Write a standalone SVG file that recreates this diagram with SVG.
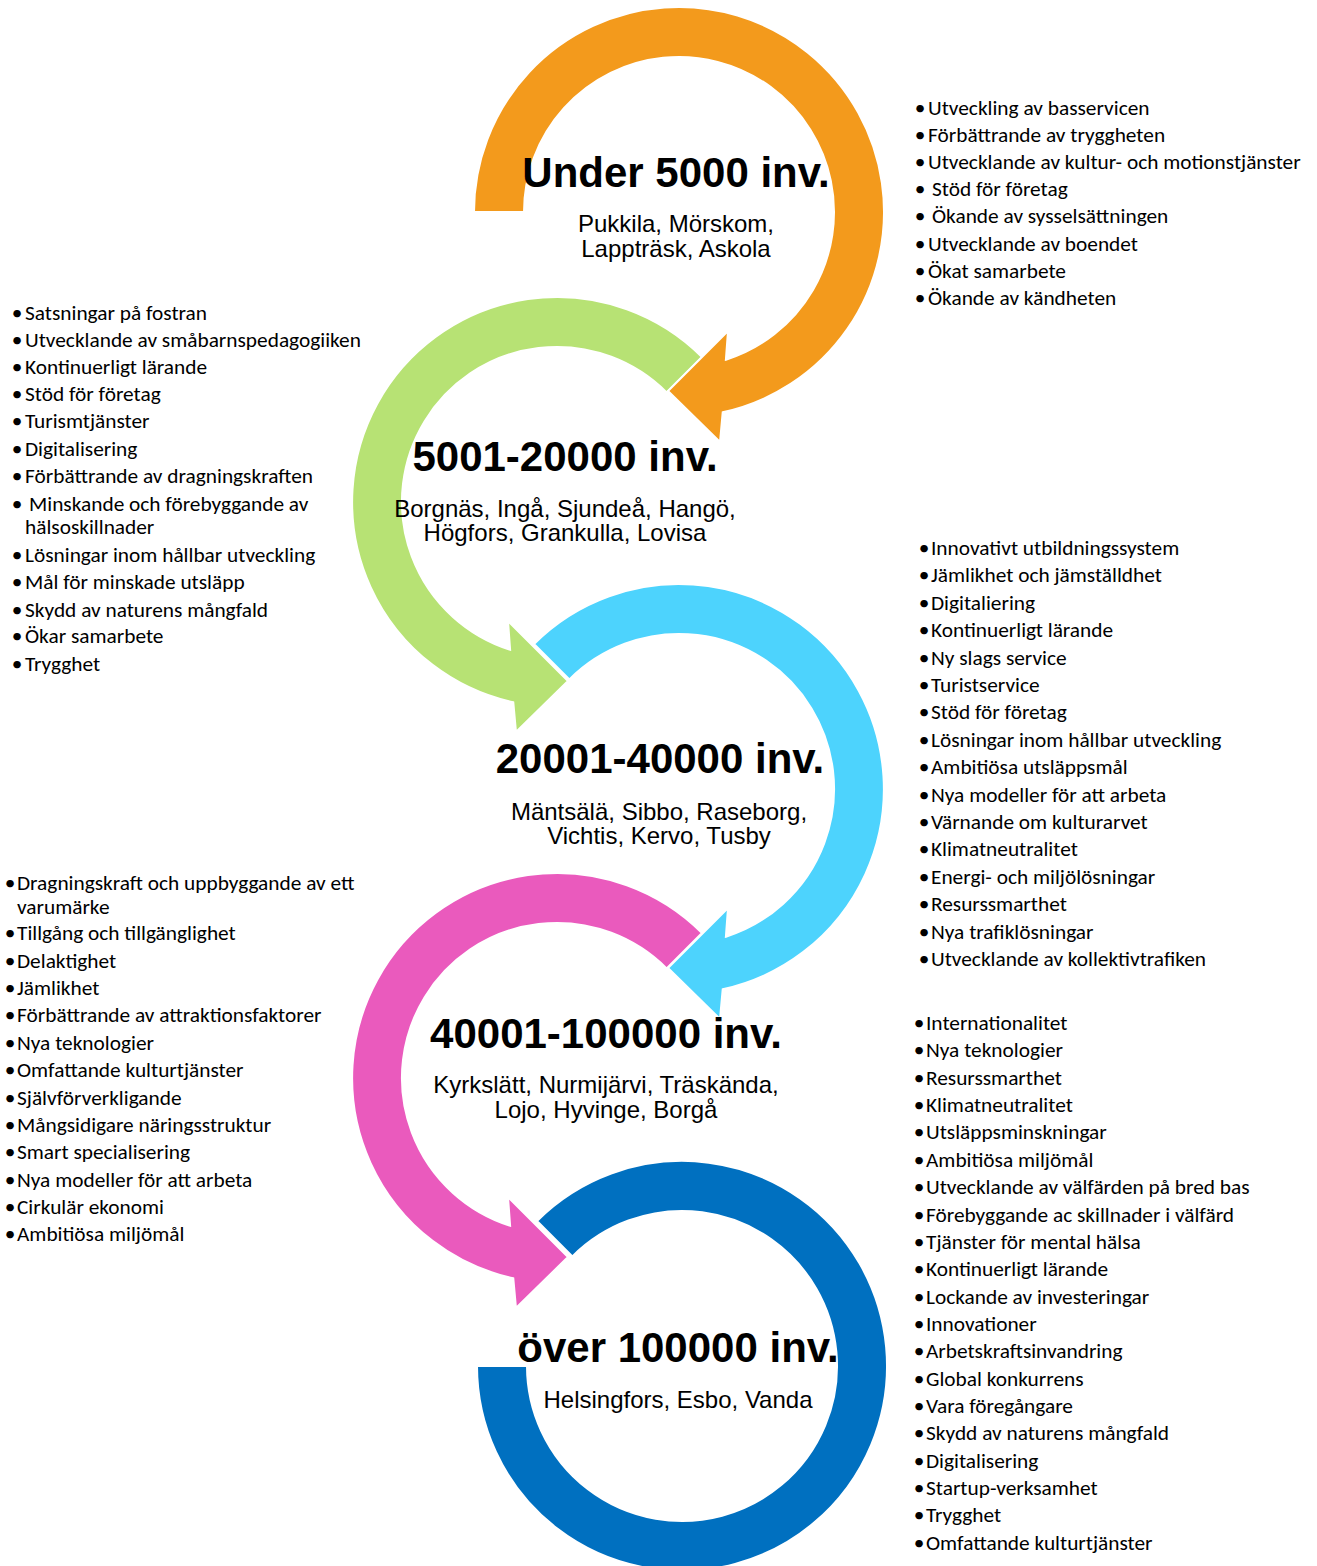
<svg xmlns="http://www.w3.org/2000/svg" width="1317" height="1566" viewBox="0 0 1317 1566">
<style>
.ring{stroke:#FFFFFF;stroke-width:2;stroke-linejoin:miter}
.title{font-family:"Liberation Sans",Arial,sans-serif;font-weight:bold;font-size:42px;text-anchor:middle;fill:#000}
.sub{font-family:"Liberation Sans",Arial,sans-serif;font-size:24px;text-anchor:middle;fill:#000}
.li{font-family:Carlito,Calibri,Lato,sans-serif;font-size:21.33px;fill:#000}
.b{text-anchor:middle}
</style>
<rect width="1317" height="1566" fill="#FFFFFF"/>

<g id="stage-5">
<path class="ring" fill="#0070C0" transform="translate(682,1366)" d="M -145,-145 A 205 205 0 1 1 -205,0 L -155,0 A 155 155 0 1 0 -109.6,-109.6 Z"/>
</g>
<g id="stage-4">
<path class="ring" fill="#EA5ABD" transform="translate(557,1078)" d="M 145,-145 A 205 205 0 1 0 -43.7,200.3 L -41,230 L 11,179 L -49,119 L -46.9,147.7 A 155 155 0 1 1 109.6,-109.6 Z"/>
</g>
<g id="stage-3">
<path class="ring" fill="#4DD3FD" transform="translate(679,789)" d="M -145,-145 A 205 205 0 1 1 43.7,200.3 L 41,230 L -11,179 L 49,119 L 46.9,147.7 A 155 155 0 1 0 -109.6,-109.6 Z"/>
</g>
<g id="stage-2">
<path class="ring" fill="#B7E274" transform="translate(557,502)" d="M 145,-145 A 205 205 0 1 0 -43.7,200.3 L -41,230 L 11,179 L -49,119 L -46.9,147.7 A 155 155 0 1 1 109.6,-109.6 Z"/>
</g>
<g id="stage-1">
<path class="ring" fill="#F39A1C" transform="translate(679,212)" d="M -205,0 A 205 205 0 1 1 43.7,200.3 L 41,230 L -11,179 L 49,119 L 46.9,147.7 A 155 155 0 1 0 -155,0 Z"/>
</g>

<g id="label-1">
<text class="title" x="676" y="187">Under 5000 inv.</text>
<text class="sub" x="676" y="232">Pukkila, Mörskom,</text>
<text class="sub" x="676" y="257">Lappträsk, Askola</text>
</g>
<g id="label-2">
<text class="title" x="565" y="471">5001-20000 inv.</text>
<text class="sub" x="565" y="517">Borgnäs, Ingå, Sjundeå, Hangö,</text>
<text class="sub" x="565" y="541">Högfors, Grankulla, Lovisa</text>
</g>
<g id="label-3">
<text class="title" x="660" y="773">20001-40000 inv.</text>
<text class="sub" x="659" y="820">Mäntsälä, Sibbo, Raseborg,</text>
<text class="sub" x="659" y="844">Vichtis, Kervo, Tusby</text>
</g>
<g id="label-4">
<text class="title" x="606" y="1048">40001-100000 inv.</text>
<text class="sub" x="606" y="1093">Kyrkslätt, Nurmijärvi, Träskända,</text>
<text class="sub" x="606" y="1118">Lojo, Hyvinge, Borgå</text>
</g>
<g id="label-5">
<text class="title" x="678" y="1362">över 100000 inv.</text>
<text class="sub" x="678" y="1408">Helsingfors, Esbo, Vanda</text>
</g>

<g id="list-1" class="li">
<text y="115"><tspan class="b" x="920">•</tspan><tspan x="928">Utveckling av basservicen</tspan></text>
<text y="142"><tspan class="b" x="920">•</tspan><tspan x="928">Förbättrande av tryggheten</tspan></text>
<text y="169"><tspan class="b" x="920">•</tspan><tspan x="928">Utvecklande av kultur- och motionstjänster</tspan></text>
<text y="196"><tspan class="b" x="920">•</tspan><tspan x="932">Stöd för företag</tspan></text>
<text y="223"><tspan class="b" x="920">•</tspan><tspan x="932">Ökande av sysselsättningen</tspan></text>
<text y="251"><tspan class="b" x="920">•</tspan><tspan x="928">Utvecklande av boendet</tspan></text>
<text y="278"><tspan class="b" x="920">•</tspan><tspan x="928">Ökat samarbete</tspan></text>
<text y="305"><tspan class="b" x="920">•</tspan><tspan x="928">Ökande av kändheten</tspan></text>
</g>

<g id="list-2" class="li">
<text y="320"><tspan class="b" x="17">•</tspan><tspan x="25">Satsningar på fostran</tspan></text>
<text y="347"><tspan class="b" x="17">•</tspan><tspan x="25">Utvecklande av småbarnspedagogiiken</tspan></text>
<text y="374"><tspan class="b" x="17">•</tspan><tspan x="25">Kontinuerligt lärande</tspan></text>
<text y="401"><tspan class="b" x="17">•</tspan><tspan x="25">Stöd för företag</tspan></text>
<text y="428"><tspan class="b" x="17">•</tspan><tspan x="25">Turismtjänster</tspan></text>
<text y="456"><tspan class="b" x="17">•</tspan><tspan x="25">Digitalisering</tspan></text>
<text y="483"><tspan class="b" x="17">•</tspan><tspan x="25">Förbättrande av dragningskraften</tspan></text>
<text y="511"><tspan class="b" x="17">•</tspan><tspan x="29">Minskande och förebyggande av</tspan></text>
<text y="534" x="25">hälsoskillnader</text>
<text y="562"><tspan class="b" x="17">•</tspan><tspan x="25">Lösningar inom hållbar utveckling</tspan></text>
<text y="589"><tspan class="b" x="17">•</tspan><tspan x="25">Mål för minskade utsläpp</tspan></text>
<text y="617"><tspan class="b" x="17">•</tspan><tspan x="25">Skydd av naturens mångfald</tspan></text>
<text y="643"><tspan class="b" x="17">•</tspan><tspan x="25">Ökar samarbete</tspan></text>
<text y="671"><tspan class="b" x="17">•</tspan><tspan x="25">Trygghet</tspan></text>
</g>

<g id="list-3" class="li">
<text y="555"><tspan class="b" x="924">•</tspan><tspan x="931">Innovativt utbildningssystem</tspan></text>
<text y="582.4"><tspan class="b" x="924">•</tspan><tspan x="931">Jämlikhet och jämställdhet</tspan></text>
<text y="609.8"><tspan class="b" x="924">•</tspan><tspan x="931">Digitaliering</tspan></text>
<text y="637.2"><tspan class="b" x="924">•</tspan><tspan x="931">Kontinuerligt lärande</tspan></text>
<text y="664.6"><tspan class="b" x="924">•</tspan><tspan x="931">Ny slags service</tspan></text>
<text y="692"><tspan class="b" x="924">•</tspan><tspan x="931">Turistservice</tspan></text>
<text y="719.4"><tspan class="b" x="924">•</tspan><tspan x="931">Stöd för företag</tspan></text>
<text y="746.8"><tspan class="b" x="924">•</tspan><tspan x="931">Lösningar inom hållbar utveckling</tspan></text>
<text y="774.2"><tspan class="b" x="924">•</tspan><tspan x="931">Ambitiösa utsläppsmål</tspan></text>
<text y="801.6"><tspan class="b" x="924">•</tspan><tspan x="931">Nya modeller för att arbeta</tspan></text>
<text y="829"><tspan class="b" x="924">•</tspan><tspan x="931">Värnande om kulturarvet</tspan></text>
<text y="856.4"><tspan class="b" x="924">•</tspan><tspan x="931">Klimatneutralitet</tspan></text>
<text y="883.8"><tspan class="b" x="924">•</tspan><tspan x="931">Energi- och miljölösningar</tspan></text>
<text y="911.2"><tspan class="b" x="924">•</tspan><tspan x="931">Resurssmarthet</tspan></text>
<text y="938.6"><tspan class="b" x="924">•</tspan><tspan x="931">Nya trafiklösningar</tspan></text>
<text y="966"><tspan class="b" x="924">•</tspan><tspan x="931">Utvecklande av kollektivtrafiken</tspan></text>
</g>

<g id="list-4" class="li">
<text y="890"><tspan class="b" x="10">•</tspan><tspan x="17">Dragningskraft och uppbyggande av ett</tspan></text>
<text y="914" x="17">varumärke</text>
<text y="940"><tspan class="b" x="10">•</tspan><tspan x="17">Tillgång och tillgänglighet</tspan></text>
<text y="968"><tspan class="b" x="10">•</tspan><tspan x="17">Delaktighet</tspan></text>
<text y="995"><tspan class="b" x="10">•</tspan><tspan x="17">Jämlikhet</tspan></text>
<text y="1022"><tspan class="b" x="10">•</tspan><tspan x="17">Förbättrande av attraktionsfaktorer</tspan></text>
<text y="1050"><tspan class="b" x="10">•</tspan><tspan x="17">Nya teknologier</tspan></text>
<text y="1077"><tspan class="b" x="10">•</tspan><tspan x="17">Omfattande kulturtjänster</tspan></text>
<text y="1105"><tspan class="b" x="10">•</tspan><tspan x="17">Självförverkligande</tspan></text>
<text y="1132"><tspan class="b" x="10">•</tspan><tspan x="17">Mångsidigare näringsstruktur</tspan></text>
<text y="1159"><tspan class="b" x="10">•</tspan><tspan x="17">Smart specialisering</tspan></text>
<text y="1187"><tspan class="b" x="10">•</tspan><tspan x="17">Nya modeller för att arbeta</tspan></text>
<text y="1214"><tspan class="b" x="10">•</tspan><tspan x="17">Cirkulär ekonomi</tspan></text>
<text y="1241"><tspan class="b" x="10">•</tspan><tspan x="17">Ambitiösa miljömål</tspan></text>
</g>

<g id="list-5" class="li">
<text y="1030"><tspan class="b" x="919">•</tspan><tspan x="926">Internationalitet</tspan></text>
<text y="1057.4"><tspan class="b" x="919">•</tspan><tspan x="926">Nya teknologier</tspan></text>
<text y="1084.7"><tspan class="b" x="919">•</tspan><tspan x="926">Resurssmarthet</tspan></text>
<text y="1112.1"><tspan class="b" x="919">•</tspan><tspan x="926">Klimatneutralitet</tspan></text>
<text y="1139.4"><tspan class="b" x="919">•</tspan><tspan x="926">Utsläppsminskningar</tspan></text>
<text y="1166.8"><tspan class="b" x="919">•</tspan><tspan x="926">Ambitiösa miljömål</tspan></text>
<text y="1194.1"><tspan class="b" x="919">•</tspan><tspan x="926">Utvecklande av välfärden på bred bas</tspan></text>
<text y="1221.5"><tspan class="b" x="919">•</tspan><tspan x="926">Förebyggande ac skillnader i välfärd</tspan></text>
<text y="1248.8"><tspan class="b" x="919">•</tspan><tspan x="926">Tjänster för mental hälsa</tspan></text>
<text y="1276.2"><tspan class="b" x="919">•</tspan><tspan x="926">Kontinuerligt lärande</tspan></text>
<text y="1303.5"><tspan class="b" x="919">•</tspan><tspan x="926">Lockande av investeringar</tspan></text>
<text y="1330.9"><tspan class="b" x="919">•</tspan><tspan x="926">Innovationer</tspan></text>
<text y="1358.2"><tspan class="b" x="919">•</tspan><tspan x="926">Arbetskraftsinvandring</tspan></text>
<text y="1385.6"><tspan class="b" x="919">•</tspan><tspan x="926">Global konkurrens</tspan></text>
<text y="1412.9"><tspan class="b" x="919">•</tspan><tspan x="926">Vara föregångare</tspan></text>
<text y="1440.3"><tspan class="b" x="919">•</tspan><tspan x="926">Skydd av naturens mångfald</tspan></text>
<text y="1467.6"><tspan class="b" x="919">•</tspan><tspan x="926">Digitalisering</tspan></text>
<text y="1495"><tspan class="b" x="919">•</tspan><tspan x="926">Startup-verksamhet</tspan></text>
<text y="1522.3"><tspan class="b" x="919">•</tspan><tspan x="926">Trygghet</tspan></text>
<text y="1549.7"><tspan class="b" x="919">•</tspan><tspan x="926">Omfattande kulturtjänster</tspan></text>
</g>
</svg>
